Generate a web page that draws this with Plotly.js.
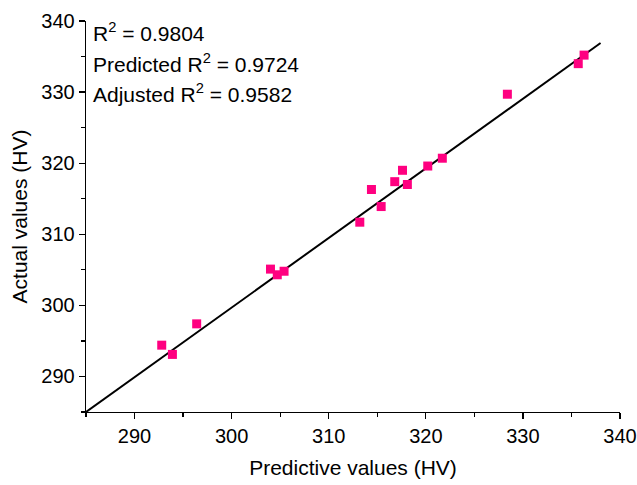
<!DOCTYPE html>
<html><head><meta charset="utf-8">
<script src="https://cdn.plot.ly/plotly-3.0.1.min.js"></script>
<style>html,body{margin:0;padding:0;background:#fff}#chart{width:637px;height:485px}</style>
</head><body><div id="chart"></div>
<script>
const predicted = [292.8, 293.9, 296.4, 304.0, 304.7, 305.4, 313.2, 315.4, 314.4, 316.8, 317.6, 318.1, 320.2, 321.7, 328.4, 335.7, 336.3];
const actual    = [294.4, 293.1, 297.4, 305.1, 304.3, 304.8, 311.7, 313.9, 316.3, 317.4, 319.0, 317.0, 319.6, 320.7, 329.7, 334.0, 335.2];
const fitX = [285, 338];
const fitY = [285, 336.9];
const statLabels = ['R<sup>2</sup> = 0.9804', 'Predicted R<sup>2</sup> = 0.9724', 'Adjusted R<sup>2</sup> = 0.9582'];
const xTicks = [290, 300, 310, 320, 330, 340];
const yTicks = [290, 300, 310, 320, 330, 340];

const font = 'Liberation Sans, Arial, sans-serif';
const traces = [
  {x: fitX, y: fitY, mode: 'lines', line: {color: '#000', width: 2}, showlegend: false, hoverinfo: 'skip'},
  {x: predicted, y: actual, mode: 'markers', marker: {symbol: 'square', size: 9, color: 'rgb(255,0,128)'}, showlegend: false}
];
const statY = [0.973, 0.892, 0.815];
const layout = {
  width: 637, height: 485,
  margin: {l: 86, r: 16.5, t: 20.7, b: 73.3},
  paper_bgcolor: '#fff', plot_bgcolor: '#fff',
  font: {family: font, color: '#000'},
  xaxis: {
    range: [285, 340], tickvals: xTicks, ticktext: xTicks.map(String),
    showgrid: false, zeroline: false, showline: true, linecolor: '#000', linewidth: 1.3,
    ticks: 'outside', ticklen: 6, tickwidth: 1.3, tickcolor: '#000',
    minor: {ticks: 'outside', dtick: 5, tick0: 285, ticklen: 4, tickwidth: 1.2, tickcolor: '#000'},
    tickfont: {size: 20, family: font},
    title: {text: 'Predictive values (HV)', font: {size: 21, family: font}, standoff: 14}
  },
  yaxis: {
    range: [285, 340], tickvals: yTicks, ticktext: yTicks.map(String),
    showgrid: false, zeroline: false, showline: true, linecolor: '#000', linewidth: 1.3,
    ticks: 'outside', ticklen: 6, tickwidth: 1.3, tickcolor: '#000',
    minor: {ticks: 'outside', dtick: 5, tick0: 285, ticklen: 4, tickwidth: 1.2, tickcolor: '#000'},
    tickfont: {size: 20, family: font},
    title: {text: 'Actual values (HV)', font: {size: 21, family: font}, standoff: 8}
  },
  annotations: statLabels.map((t, i) => ({
    text: t, xref: 'paper', yref: 'paper', x: 0.009, y: statY[i],
    xanchor: 'left', yanchor: 'middle', showarrow: false,
    font: {size: 21, family: font, color: '#000'}
  }))
};
Plotly.newPlot('chart', traces, layout, {displayModeBar: false, staticPlot: true});
</script></body></html>
